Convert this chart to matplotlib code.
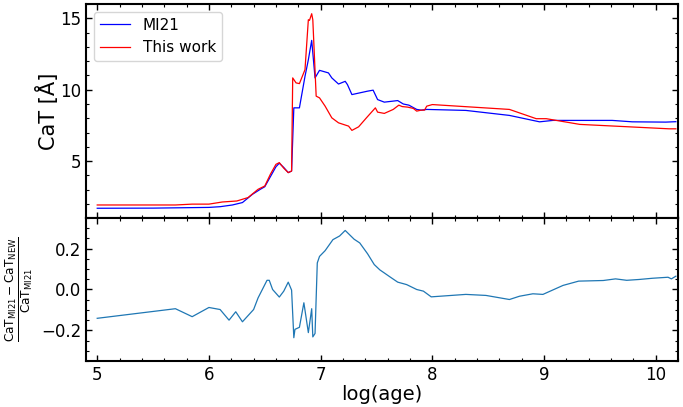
import matplotlib
matplotlib.use("Agg")
import matplotlib.pyplot as plt
from matplotlib.ticker import MultipleLocator

# CaT index vs log(age): MI21 models
age_mi21 = [5.00, 5.50, 6.00, 6.10, 6.21, 6.30, 6.39, 6.46, 6.50, 6.55, 6.60, 6.63,
            6.67, 6.71, 6.74, 6.76, 6.81, 6.86, 6.89, 6.92, 6.95, 6.99, 7.07, 7.10,
            7.16, 7.22, 7.24, 7.28, 7.35, 7.42, 7.47, 7.51, 7.57, 7.69, 7.74, 7.79,
            7.86, 7.90, 7.95, 8.30, 8.69, 8.96, 9.08, 9.61, 9.79, 10.09, 10.18]
cat_mi21 = [1.69, 1.70, 1.75, 1.80, 1.92, 2.09, 2.67, 3.02, 3.20, 3.90, 4.60, 4.85,
            4.55, 4.19, 4.30, 8.73, 8.73, 10.94, 12.10, 13.46, 10.83, 11.36, 11.18, 10.83,
            10.40, 10.59, 10.36, 9.66, 9.78, 9.90, 9.97, 9.31, 9.13, 9.24, 9.00, 8.92,
            8.62, 8.57, 8.62, 8.55, 8.20, 7.75, 7.85, 7.85, 7.75, 7.73, 7.76]

# CaT index vs log(age): new models
age_new = [5.00, 5.70, 5.85, 6.00, 6.12, 6.25, 6.35, 6.44, 6.50, 6.55, 6.60, 6.63,
           6.67, 6.71, 6.74, 6.75, 6.78, 6.81, 6.86, 6.89, 6.90, 6.92, 6.93, 6.96,
           6.99, 7.04, 7.10, 7.16, 7.23, 7.25, 7.28, 7.34, 7.41, 7.49, 7.51, 7.57,
           7.65, 7.70, 7.73, 7.78, 7.83, 7.86, 7.90, 7.93, 7.95, 8.00, 8.69, 8.93,
           9.02, 9.32, 9.76, 10.12, 10.18]
cat_new = [1.92, 1.92, 1.98, 1.98, 2.13, 2.20, 2.44, 3.02, 3.25, 4.07, 4.77, 4.89,
           4.50, 4.19, 4.30, 10.83, 10.48, 10.43, 11.41, 14.91, 14.86, 15.33, 14.90, 9.55,
           9.43, 8.85, 8.03, 7.68, 7.50, 7.45, 7.15, 7.40, 8.03, 8.73, 8.43, 8.34,
           8.62, 8.92, 8.82, 8.78, 8.69, 8.50, 8.57, 8.57, 8.85, 8.96, 8.62, 7.97,
           7.97, 7.57, 7.40, 7.26, 7.26]

# relative difference (MI21 - NEW) / MI21
age_diff = [5.00, 5.70, 5.85, 6.00, 6.10, 6.18, 6.24, 6.30, 6.40, 6.44, 6.52, 6.54,
            6.57, 6.63, 6.67, 6.71, 6.74, 6.76, 6.77, 6.81, 6.85, 6.89, 6.92, 6.93,
            6.95, 6.97, 6.99, 7.04, 7.11, 7.17, 7.22, 7.30, 7.35, 7.42, 7.48, 7.53,
            7.57, 7.62, 7.69, 7.77, 7.86, 7.92, 7.99, 8.30, 8.48, 8.69, 8.78, 8.90,
            8.99, 9.17, 9.31, 9.53, 9.64, 9.74, 9.85, 9.97, 10.11, 10.14, 10.18]
rel_diff = [-0.141, -0.094, -0.133, -0.088, -0.098, -0.150, -0.109, -0.158, -0.098, -0.041, 0.045, 0.045,
            0.000, -0.037, -0.008, 0.036, -0.003, -0.236, -0.195, -0.185, -0.065, -0.211, -0.094, -0.232,
            -0.215, 0.130, 0.162, 0.190, 0.244, 0.262, 0.289, 0.246, 0.228, 0.175, 0.122, 0.096,
            0.081, 0.062, 0.036, 0.024, 0.000, -0.008, -0.036, -0.024, -0.029, -0.049, -0.033, -0.021,
            -0.024, 0.020, 0.041, 0.044, 0.052, 0.045, 0.049, 0.055, 0.060, 0.052, 0.065]

fig = plt.figure(figsize=(6.83, 4.07), dpi=100)
ax1 = fig.add_axes([0.126, 0.4644, 0.8668, 0.5258])
ax2 = fig.add_axes([0.126, 0.113, 0.8668, 0.3514], sharex=ax1)

ax1.plot(age_mi21, cat_mi21, color="b", lw=0.9, label="MI21")
ax1.plot(age_new, cat_new, color="r", lw=0.9, label="This work")
ax1.legend(loc="upper left", fontsize=11)
ax1.set_ylabel("CaT [Å]", fontsize=15, labelpad=1)
ax1.yaxis.set_major_locator(MultipleLocator(5))
ax1.yaxis.set_minor_locator(MultipleLocator(1))
ax1.tick_params(labelbottom=False)

ax2.plot(age_diff, rel_diff, color="C0", lw=0.9)
ax2.set_ylim(-0.35, 0.35)
ax2.yaxis.set_major_locator(MultipleLocator(0.2))
ax2.yaxis.set_minor_locator(MultipleLocator(0.05))
ax2.set_xlabel("log(age)", fontsize=14, labelpad=1)
ax2.set_ylabel(r"$\frac{\mathrm{CaT_{MI21}-CaT_{NEW}}}{\mathrm{CaT_{MI21}}}$", fontsize=12.5)

ax2.set_xlim(4.9, 10.2)
ax2.xaxis.set_major_locator(MultipleLocator(1))
ax2.xaxis.set_minor_locator(MultipleLocator(0.2))

for ax in (ax1, ax2):
    ax.tick_params(which="both", direction="in", top=True, right=True, labelsize=12)
    ax.tick_params(which="major", length=4.5, width=1)
    ax.tick_params(which="minor", length=2, width=0.8)
    for s in ax.spines.values():
        s.set_linewidth(1.5)

fig.savefig("out.png", dpi=100)
